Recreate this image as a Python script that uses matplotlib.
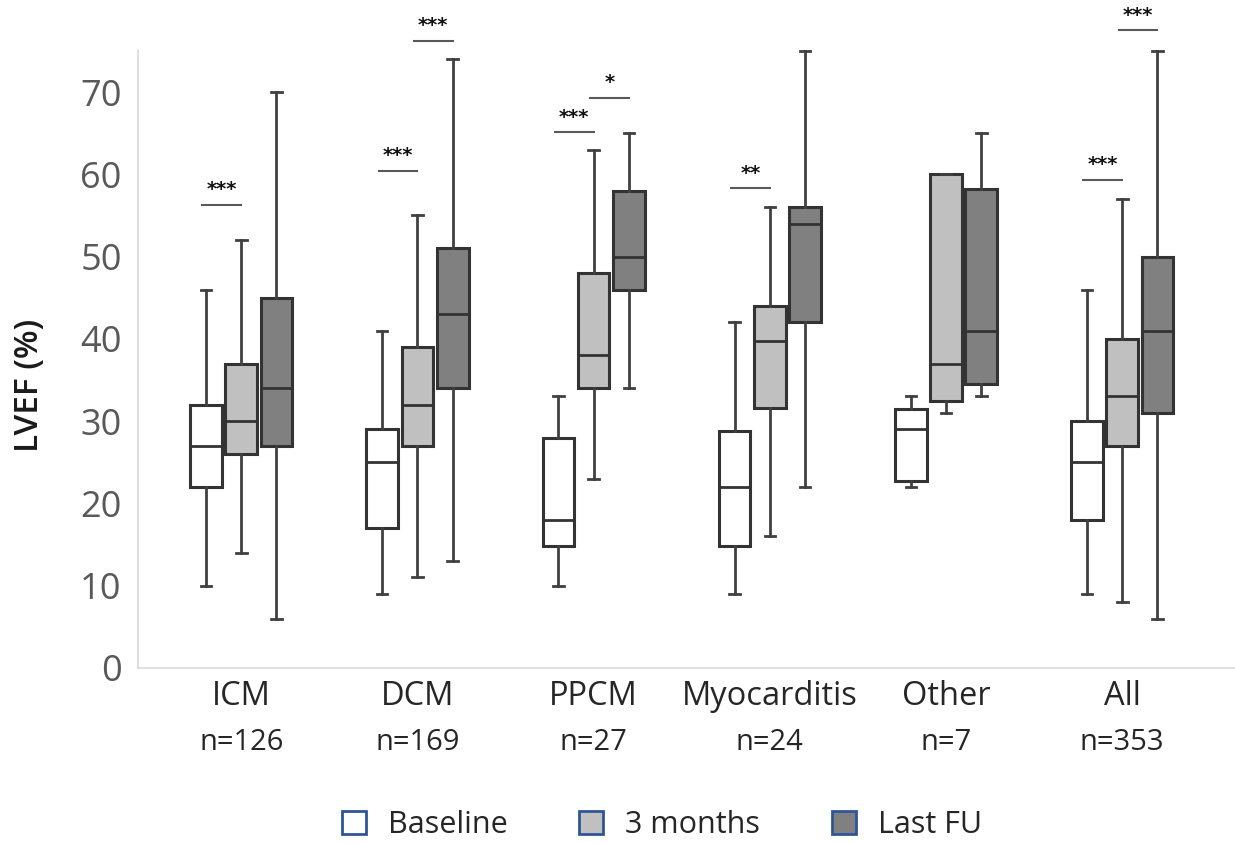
import matplotlib
matplotlib.use("Agg")
import matplotlib.pyplot as plt
from matplotlib.patches import Patch
from matplotlib.transforms import blended_transform_factory

plt.rcParams['font.family'] = ['Open Sans', 'DejaVu Sans']

categories = ['ICM', 'DCM', 'PPCM', 'Myocarditis', 'Other', 'All']
n_labels = ['n=126', 'n=169', 'n=27', 'n=24', 'n=7', 'n=353']
series = ['Baseline', '3 months', 'Last FU']

# whisker low, Q1, median, Q3, whisker high per group
baseline_low = [10, 9, 10, 9, 22, 9]
baseline_q1 = [22, 17, 14.8, 14.8, 22.7, 18]
baseline_med = [27, 25, 18, 22, 29, 25]
baseline_q3 = [32, 29, 28, 28.8, 31.5, 30]
baseline_high = [46, 41, 33, 42, 33, 46]

m3_low = [14, 11, 23, 16, 31, 8]
m3_q1 = [26, 27, 34, 31.6, 32.5, 27]
m3_med = [30, 32, 38, 39.7, 37, 33]
m3_q3 = [37, 39, 48, 44, 60, 40]
m3_high = [52, 55, 63, 56, 60, 57]

last_low = [6, 13, 34, 22, 33, 6]
last_q1 = [27, 34, 46, 42, 34.5, 31]
last_med = [34, 43, 50, 54, 41, 41]
last_q3 = [45, 51, 58, 56, 58.2, 50]
last_high = [70, 74, 65, 75, 65, 75]

# significance bars: group, first series, second series, height, stars
sig_group = [0, 1, 1, 2, 2, 3, 5, 5]
sig_a = [0, 0, 1, 0, 1, 0, 0, 1]
sig_b = [1, 1, 2, 1, 2, 1, 1, 2]
sig_y = [56.3, 60.4, 76.2, 65.1, 69.3, 58.3, 59.3, 77.5]
sig_text = ['***', '***', '***', '***', '*', '**', '***', '***']

stats_by_series = [
    (baseline_low, baseline_q1, baseline_med, baseline_q3, baseline_high),
    (m3_low, m3_q1, m3_med, m3_q3, m3_high),
    (last_low, last_q1, last_med, last_q3, last_high),
]
face_colors = ['#ffffff', '#c0c0c0', '#808080']
edge = '#333333'
offsets = [-0.2, 0.0, 0.2]

fig = plt.figure(figsize=(12.35, 8.43), dpi=100)
ax = fig.add_axes([0.112, 0.2076, 0.888, 0.733])

for s, (lo, q1, med, q3, hi) in enumerate(stats_by_series):
    stats = []
    for g in range(len(categories)):
        stats.append(dict(whislo=lo[g], q1=q1[g], med=med[g], q3=q3[g], whishi=hi[g], fliers=[]))
    pos = [g + offsets[s] for g in range(len(categories))]
    ax.bxp(stats, positions=pos, widths=0.18, capwidths=0.06, patch_artist=True, showfliers=False,
           boxprops=dict(facecolor=face_colors[s], edgecolor=edge, linewidth=2.2),
           medianprops=dict(color=edge, linewidth=2),
           whiskerprops=dict(color='#404040', linewidth=2),
           capprops=dict(color='#404040', linewidth=2),
           manage_ticks=False)

for g, a, b, y, t in zip(sig_group, sig_a, sig_b, sig_y, sig_text):
    x1 = g + offsets[a] - 0.02
    x2 = g + offsets[b]
    ax.plot([x1, x2], [y, y], color='#595959', linewidth=1.5, clip_on=False)
    ax.text((x1 + x2) / 2, y + 0.7, t, ha='center', va='bottom', fontsize=14, fontweight='bold',
            color='#111111', family='DejaVu Sans', clip_on=False)

ax.set_xlim(-0.584, 5.64)
ax.set_ylim(0, 75.1)
ax.set_yticks(range(0, 80, 10))
ax.tick_params(axis='y', length=0, pad=12, labelsize=26, labelcolor='#595959')
ax.set_xticks(range(len(categories)))
ax.set_xticklabels(categories)
ax.tick_params(axis='x', length=0, pad=9, labelsize=23.5, labelcolor='#262626')

trans = blended_transform_factory(ax.transData, ax.transAxes)
for g, n in enumerate(n_labels):
    ax.text(g, -0.12, n, transform=trans, ha='center', va='center', fontsize=21, color='#262626')

for side in ['top', 'right']:
    ax.spines[side].set_visible(False)
for side in ['left', 'bottom']:
    ax.spines[side].set_color('#d9d9d9')
    ax.spines[side].set_linewidth(1.2)

fig.text(29 / 1235, 1 - 385 / 843, 'LVEF (%)', rotation=90, ha='center', va='center',
         fontsize=24, fontweight='semibold', color='#1a1a1a')

handles = [Patch(facecolor=c, edgecolor='#2f5597', linewidth=2, label=l) for c, l in zip(face_colors, series)]
fig.legend(handles=handles, loc='center', bbox_to_anchor=(0.536, 0.021), ncol=3, frameon=False,
           fontsize=22, handlelength=0.79, handleheight=0.79, handletextpad=0.72, columnspacing=2.35,
           labelcolor='#262626')

fig.savefig('out.png', dpi=100)
